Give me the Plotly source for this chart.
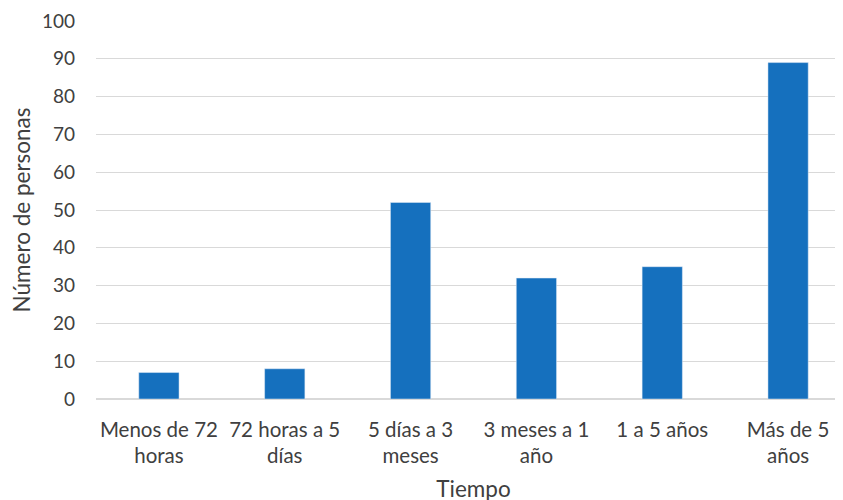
import plotly.graph_objects as go

# Data
categorias = ["Menos de 72<br>horas", "72 horas a 5<br>días", "5 días a 3<br>meses",
              "3 meses a 1<br>año", "1 a 5 años", "Más de 5<br>años"]
personas = [7, 8, 52, 32, 35, 89]
ticks_y = list(range(0, 101, 10))

fig = go.Figure(go.Bar(
    x=categorias,
    y=personas,
    marker=dict(color="#1570BE"),
))

# page body adds an 8px offset, margins compensate for it
fig.update_layout(
    width=843, height=500,
    margin=dict(l=88, r=0, t=13, b=109),
    plot_bgcolor="white", paper_bgcolor="white",
    bargap=0.68,
    showlegend=False,
    font=dict(family="Lato", size=19, color="#404040"),
)

fig.update_xaxes(
    title=dict(text="Tiempo", font=dict(size=22.5), standoff=14),
    showgrid=False, showline=True, linecolor="#D9D9D9", linewidth=1,
    ticklabelstandoff=12,
    tickfont=dict(size=20.5),
    automargin=False,
)
fig.update_yaxes(
    title=dict(text="Número de personas", font=dict(size=22.5), standoff=8),
    range=[0, 100], tickvals=ticks_y,
    showgrid=True, gridcolor="#D9D9D9", gridwidth=1,
    zeroline=True, zerolinecolor="#D9D9D9",
    ticklabelstandoff=20,
    tickfont=dict(size=19),
    automargin=False,
)

fig.write_html("out.html")
